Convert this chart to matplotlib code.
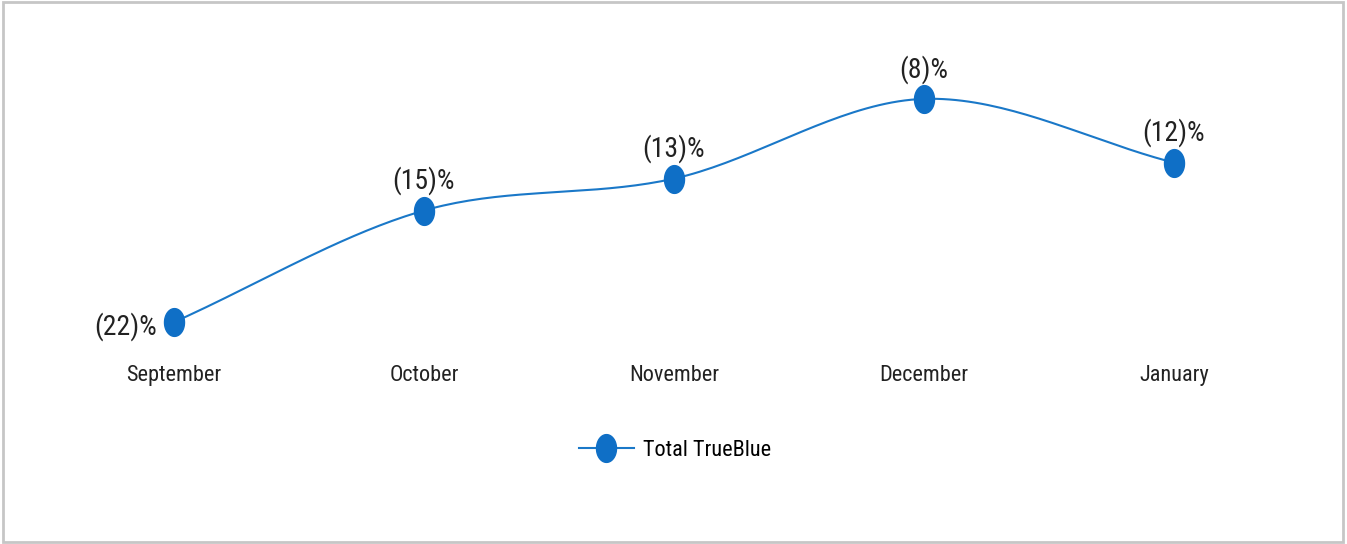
import numpy as np
import matplotlib
matplotlib.use('Agg')
import matplotlib.pyplot as plt
from matplotlib.path import Path
from matplotlib.patches import Rectangle
from matplotlib.lines import Line2D

months = ['September', 'October', 'November', 'December', 'January']
pct_change = [-22, -15, -13, -8, -12]
series_name = 'Total TrueBlue'

BLUE = '#0f6fc6'
LINE_BLUE = '#1a78c8'

plt.rcParams['font.family'] = ['Roboto Condensed', 'DejaVu Sans']


def smooth(xs, ys, n=40):
    # catmull-rom style hermite curve through the points
    xs = np.asarray(xs, float)
    ys = np.asarray(ys, float)
    m = np.zeros_like(ys)
    m[1:-1] = (ys[2:] - ys[:-2]) / (xs[2:] - xs[:-2])
    m[0] = ys[1] - ys[0]
    m[-1] = ys[-1] - ys[-2]
    out_x, out_y = [], []
    for i in range(len(xs) - 1):
        h = xs[i + 1] - xs[i]
        t = np.linspace(0, 1, n)
        h00 = 2 * t**3 - 3 * t**2 + 1
        h10 = t**3 - 2 * t**2 + t
        h01 = -2 * t**3 + 3 * t**2
        h11 = t**3 - t**2
        out_x.append(xs[i] + t * h)
        out_y.append(h00 * ys[i] + h10 * h * m[i] + h01 * ys[i + 1] + h11 * h * m[i + 1])
    return np.concatenate(out_x), np.concatenate(out_y)


def fmt(v):
    return f'({abs(v)})%' if v < 0 else f'{v}%'


# tall ellipse marker
theta = np.linspace(0, 2 * np.pi, 60)
ellipse = Path(np.column_stack([0.72 * np.cos(theta), np.sin(theta)]), closed=True)

fig = plt.figure(figsize=(13.47, 5.44), dpi=100)
fig.add_artist(Rectangle((0.002, 0.004), 0.995, 0.993, transform=fig.transFigure,
                         fill=False, edgecolor='#c6c6c6', linewidth=2))

ax = fig.add_axes([49 / 1347, 1 - 354 / 544, 1250 / 1347, (354 - 67) / 544])
x = np.arange(len(months))
sx, sy = smooth(x, pct_change)
ax.plot(sx, sy, color=LINE_BLUE, lw=1.5, zorder=2)
ax.plot(x, pct_change, ls='none', marker=ellipse, ms=20, color=BLUE, zorder=3)

for i, v in enumerate(pct_change):
    if i == 0:
        ax.annotate(fmt(v), (x[i], v), xytext=(-12, -3), textcoords='offset points',
                    ha='right', va='center', fontsize=20, color='#222222')
    else:
        ax.annotate(fmt(v), (x[i], v), xytext=(0, 11), textcoords='offset points',
                    ha='center', va='bottom', fontsize=20, color='#222222')

ax.set_xlim(-0.5, 4.5)
ax.set_ylim(-24, -6)
ax.set_xticks(x, months)
ax.tick_params(axis='x', length=0, pad=8, labelsize=16, labelcolor='#222222')
ax.set_yticks([])
for s in ax.spines.values():
    s.set_visible(False)

handle = Line2D([], [], color=LINE_BLUE, lw=1.5, marker=ellipse, ms=20,
                markerfacecolor=BLUE, markeredgecolor=BLUE)
fig.legend([handle], [series_name], loc='center', bbox_to_anchor=(675 / 1347, 1 - 450 / 544),
           frameon=False, fontsize=16, handlelength=2.5, handletextpad=0.4)

fig.savefig('out.png', dpi=100, facecolor='white')
